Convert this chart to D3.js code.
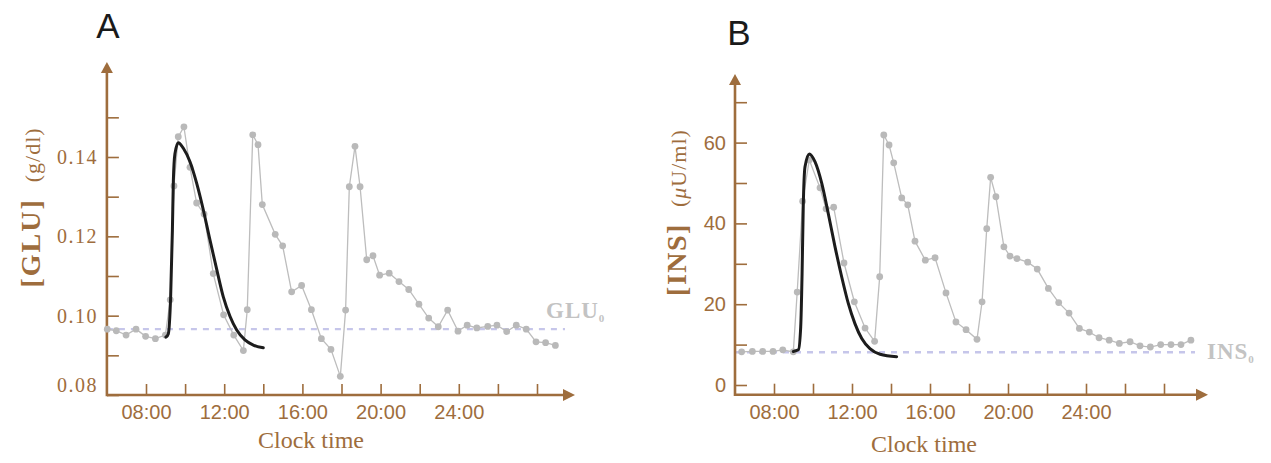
<!DOCTYPE html>
<html>
<head>
<meta charset="utf-8">
<script src="https://cdn.jsdelivr.net/npm/d3@7"></script>
<style>
  body { margin: 0; background: #fff; }
</style>
</head>
<body>
<svg id="chart" width="1271" height="463"></svg>
<script>
// clock hours (6 = 06:00, 24 = midnight, 28 = 04:00 next day)
const tickHours = [8, 10, 12, 14, 16, 18, 20, 22, 24, 26, 28];
const labelHours = [8, 12, 16, 20, 24];
const hourLabels = ['08:00', '12:00', '16:00', '20:00', '24:00'];

// panel A - glucose (g/dl)
const gluTicks = [0.08, 0.09, 0.10, 0.11, 0.12, 0.13, 0.14, 0.15];
const gluLabelTicks = [0.08, 0.10, 0.12, 0.14];
const gluTickLabels = ['0.08', '0.10', '0.12', '0.14'];
const gluBaseline = 0.0966;
const gluTime = [6.02, 6.48, 6.98, 7.49, 7.98, 8.48, 8.99, 9.24, 9.43, 9.65, 9.94, 10.25,
  10.59, 10.97, 11.44, 11.97, 12.49, 12.98, 13.18, 13.46, 13.73, 13.95, 14.61, 14.99,
  15.45, 15.96, 16.46, 16.97, 17.46, 17.94, 18.21, 18.40, 18.69, 18.95, 19.29, 19.61,
  19.95, 20.44, 20.94, 21.44, 21.96, 22.46, 22.95, 23.43, 23.96, 24.43, 24.92, 25.48,
  25.95, 26.45, 26.94, 27.45, 27.95, 28.44, 28.94];
const gluValue = [0.0966, 0.0962, 0.0951, 0.0966, 0.0948, 0.0942, 0.0951, 0.1040, 0.1327,
  0.1451, 0.1476, 0.1374, 0.1284, 0.1256, 0.1106, 0.1002, 0.0951, 0.0912, 0.1015, 0.1456,
  0.1431, 0.1280, 0.1205, 0.1176, 0.1060, 0.1076, 0.1015, 0.0942, 0.0915, 0.0847, 0.1014,
  0.1325, 0.1427, 0.1325, 0.1141, 0.1151, 0.1102, 0.1107, 0.1086, 0.1066, 0.1029, 0.0994,
  0.0972, 0.1014, 0.0961, 0.0976, 0.0969, 0.0973, 0.0976, 0.0960, 0.0976, 0.0966, 0.0934,
  0.0932, 0.0925];
const gluModelTime = [9.02, 9.14, 9.26, 9.35, 9.40, 9.48, 9.65, 9.91, 10.25, 10.59, 10.93,
  11.27, 11.62, 11.95, 12.30, 12.64, 13.06, 13.49, 14.00];
const gluModelValue = [0.0946, 0.0954, 0.1047, 0.1215, 0.1341, 0.1408, 0.1436, 0.1422,
  0.1388, 0.1334, 0.1267, 0.1191, 0.1116, 0.1048, 0.0998, 0.0964, 0.0939, 0.0926, 0.0919];

// panel B - insulin (µU/ml)
const insTicks = [0, 10, 20, 30, 40, 50, 60, 70];
const insLabelTicks = [0, 20, 40, 60];
const insTickLabels = ['0', '20', '40', '60'];
const insBaseline = 8.1;
const insTime = [6.34, 6.89, 7.42, 7.95, 8.45, 8.99, 9.19, 9.47, 9.81, 10.36, 10.67, 11.06,
  11.59, 12.12, 12.67, 13.16, 13.42, 13.63, 13.90, 14.14, 14.55, 14.86, 15.23, 15.76,
  16.26, 16.82, 17.33, 17.85, 18.41, 18.67, 18.91, 19.11, 19.38, 19.79, 20.10, 20.46,
  21.01, 21.50, 22.07, 22.60, 23.13, 23.66, 24.17, 24.67, 25.19, 25.71, 26.26, 26.77,
  27.30, 27.83, 28.36, 28.87, 29.38];
const insValue = [8.2, 8.3, 8.3, 8.3, 8.7, 8.2, 23.0, 45.5, 55.7, 48.8, 43.6, 44.0, 30.2,
  20.6, 14.1, 10.8, 26.8, 61.9, 59.4, 55.0, 46.3, 44.6, 35.6, 30.9, 31.5, 22.8, 15.6,
  13.7, 11.3, 20.6, 38.7, 51.4, 46.6, 34.2, 31.9, 31.3, 30.4, 28.7, 23.9, 20.4, 17.8,
  14.0, 13.1, 11.7, 11.1, 10.3, 10.7, 9.7, 9.4, 10.0, 10.0, 10.0, 11.1];
const insModelTime = [8.99, 9.25, 9.37, 9.44, 9.50, 9.59, 9.81, 10.10, 10.45, 10.78, 11.13,
  11.47, 11.81, 12.15, 12.50, 12.92, 13.44, 14.29];
const insModelValue = [8.3, 8.7, 14.4, 27.6, 44.1, 54.0, 57.2, 55.3, 49.9, 42.5, 34.2,
  26.8, 20.2, 15.2, 11.5, 9.0, 7.6, 7.0];

const brown = '#9e6d3d';
const gray = '#b9b9b9';
const serif = 'Liberation Serif, serif';
const sans = 'Liberation Sans, Arial, sans-serif';

const svg = d3.select('#chart');

function drawPanel(p) {
  const g = svg.append('g');
  const x = d3.scaleLinear().domain([6, 30]).range([p.left, p.right]);
  const y = d3.scaleLinear().domain(p.yDomain).range([p.bottom, p.top]);
  const axisY = p.axisY;

  // panel letter
  g.append('text')
    .attr('x', p.letterX).attr('y', p.letterY)
    .attr('text-anchor', 'middle')
    .attr('font-family', sans).attr('font-size', 35)
    .attr('fill', '#1a1a1a')
    .text(p.letter);

  // baseline level
  g.append('line')
    .attr('x1', p.left).attr('x2', p.baseEnd)
    .attr('y1', y(p.baseline)).attr('y2', y(p.baseline))
    .attr('stroke', '#c6c6ea').attr('stroke-width', 2.4)
    .attr('stroke-dasharray', '6,6');

  const base = g.append('text')
    .attr('x', p.baseLabelX).attr('y', p.baseLabelY)
    .attr('font-family', serif).attr('fill', '#c3c3c3')
    .attr('font-weight', 'bold');
  base.append('tspan').attr('font-size', 23).attr('letter-spacing', 1).text(p.baseName);
  base.append('tspan').attr('font-size', 11).attr('dy', 4).text('0');

  // axes: tick marks inside, labels outside
  g.append('g')
    .attr('transform', `translate(0,${axisY})`)
    .call(d3.axisTop(x).tickValues(tickHours).tickSize(11).tickFormat(''))
    .call(a => a.select('.domain').remove())
    .call(a => a.selectAll('line').attr('stroke', brown).attr('stroke-width', 1.6));

  g.append('g')
    .attr('transform', `translate(0,${axisY})`)
    .call(d3.axisBottom(x).tickValues(labelHours).tickSize(0).tickPadding(10)
      .tickFormat((d, i) => hourLabels[i]))
    .call(a => a.select('.domain').remove())
    .call(a => a.selectAll('text').attr('fill', brown)
      .attr('font-family', sans).attr('font-size', 20));

  g.append('g')
    .attr('transform', `translate(${p.left},0)`)
    .call(d3.axisRight(y).tickValues(p.ticks).tickSize(12).tickFormat(''))
    .call(a => a.select('.domain').remove())
    .call(a => a.selectAll('line').attr('stroke', brown).attr('stroke-width', 1.6));

  g.append('g')
    .attr('transform', `translate(${p.left},0)`)
    .call(d3.axisLeft(y).tickValues(p.labelTicks).tickSize(0).tickPadding(9)
      .tickFormat((d, i) => p.tickLabels[i]))
    .call(a => a.select('.domain').remove())
    .call(a => a.selectAll('text').attr('fill', brown)
      .attr('font-family', p.tickFont).attr('font-size', 20)
      .attr('letter-spacing', p.tickSpacing)
      // the lowest glucose label is lifted off the x axis
      .attr('dy', d => p.liftFirst && d === p.labelTicks[0] ? '-0.2em' : '0.32em'));

  // axis lines with arrow heads
  g.append('line')
    .attr('x1', p.left).attr('x2', p.left)
    .attr('y1', axisY + 1.2).attr('y2', p.arrowTop + 8)
    .attr('stroke', brown).attr('stroke-width', 2.6);
  g.append('path')
    .attr('d', `M${p.left - 6},${p.arrowTop + 11}L${p.left},${p.arrowTop}L${p.left + 6},${p.arrowTop + 11}Z`)
    .attr('fill', brown);
  g.append('line')
    .attr('x1', p.left).attr('x2', p.arrowRight - 8)
    .attr('y1', axisY).attr('y2', axisY)
    .attr('stroke', brown).attr('stroke-width', 2.6);
  g.append('path')
    .attr('d', `M${p.arrowRight - 12},${axisY - 6}L${p.arrowRight},${axisY}L${p.arrowRight - 12},${axisY + 6}Z`)
    .attr('fill', brown);

  // axis titles
  g.append('text')
    .attr('x', p.centerX).attr('y', p.xTitleY)
    .attr('text-anchor', 'middle')
    .attr('font-family', serif).attr('font-size', 24)
    .attr('fill', brown)
    .text('Clock time');

  const yt = g.append('text')
    .attr('transform', `translate(${p.yTitleX},${p.yTitleY})rotate(-90)`)
    .attr('text-anchor', 'middle')
    .attr('font-family', serif).attr('fill', brown);
  yt.append('tspan').attr('font-size', 28).attr('font-weight', 'bold')
    .attr('letter-spacing', p.nameSpacing).text(`[${p.name}]`);
  yt.append('tspan').attr('font-size', 22).attr('dx', 16).attr('letter-spacing', 1).text('(');
  p.unit.forEach(u => {
    yt.append('tspan').attr('font-size', 22).attr('letter-spacing', 1)
      .attr('font-style', u.italic ? 'italic' : 'normal').text(u.text);
  });
  yt.append('tspan').attr('font-size', 22).text(')');

  // measured data
  const pts = p.time.map((t, i) => [t, p.value[i]]);
  g.append('path')
    .datum(pts)
    .attr('fill', 'none').attr('stroke', '#bdbdbd').attr('stroke-width', 1.3)
    .attr('d', d3.line().x(d => x(d[0])).y(d => y(d[1])));
  g.selectAll('.dot')
    .data(pts)
    .enter()
    .append('circle')
      .attr('class', 'dot')
      .attr('cx', d => x(d[0]))
      .attr('cy', d => y(d[1]))
      .attr('r', 3.4)
      .attr('fill', gray);

  // model curve
  const model = p.modelTime.map((t, i) => [t, p.modelValue[i]]);
  g.append('path')
    .datum(model)
    .attr('fill', 'none').attr('stroke', '#1c1c1c').attr('stroke-width', 3)
    .attr('stroke-linecap', 'round').attr('stroke-linejoin', 'round')
    .attr('d', d3.line().curve(d3.curveMonotoneX).x(d => x(d[0])).y(d => y(d[1])));
}

// y range chosen so 0.08 sits on the x axis and 0.14 at its drawn height
drawPanel({
  letter: 'A', letterX: 108, letterY: 38,
  left: 106.9, right: 106.9 + 24 * 19.55, top: 157, bottom: 395, axisY: 395,
  yDomain: [0.08, 0.14], arrowTop: 62, arrowRight: 575,
  ticks: gluTicks, labelTicks: gluLabelTicks, tickLabels: gluTickLabels,
  tickFont: serif, tickSpacing: 1.5, liftFirst: true,
  baseline: gluBaseline, baseEnd: 565, baseName: 'GLU', baseLabelX: 546, baseLabelY: 318,
  centerX: 311, xTitleY: 448,
  yTitleX: 40, yTitleY: 208, name: 'GLU', nameSpacing: 2,
  unit: [{ text: 'g/dl' }],
  time: gluTime, value: gluValue, modelTime: gluModelTime, modelValue: gluModelValue
});

drawPanel({
  letter: 'B', letterX: 739, letterY: 45,
  left: 735, right: 735 + 24 * 19.5, top: 142.6, bottom: 385, axisY: 394.7,
  yDomain: [0, 60], arrowTop: 74, arrowRight: 1208,
  ticks: insTicks, labelTicks: insLabelTicks, tickLabels: insTickLabels,
  tickFont: sans, tickSpacing: 0, liftFirst: false,
  baseline: insBaseline, baseEnd: 1195, baseName: 'INS', baseLabelX: 1207, baseLabelY: 359,
  centerX: 924, xTitleY: 452,
  yTitleX: 686, yTitleY: 213, name: 'INS', nameSpacing: 1.5,
  unit: [{ text: 'μ', italic: true }, { text: 'U/ml' }],
  time: insTime, value: insValue, modelTime: insModelTime, modelValue: insModelValue
});
</script>
</body>
</html>
